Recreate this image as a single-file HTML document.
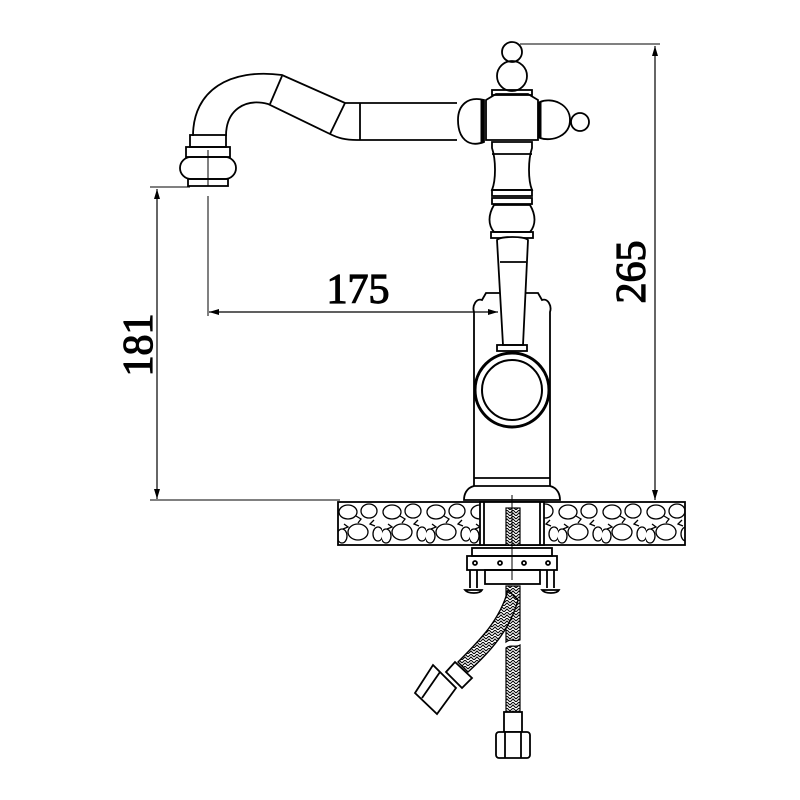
<!DOCTYPE html>
<html><head><style>html,body{margin:0;padding:0;background:#fff}svg{display:block}</style></head>
<body>
<svg width="800" height="800" viewBox="0 0 800 800" xmlns="http://www.w3.org/2000/svg">
<defs>
<marker id="ar" viewBox="0 0 10 10" refX="10" refY="5" markerWidth="12" markerHeight="10" markerUnits="userSpaceOnUse" orient="auto-start-reverse"><path d="M0,2 L10,5 L0,8 Z" fill="#000"/></marker>
<pattern id="stone" width="44" height="44" patternUnits="userSpaceOnUse" x="338" y="502">
<rect width="44" height="44" fill="#fff"/>
<g fill="none" stroke="#000" stroke-width="1.3">
<ellipse cx="10" cy="10" rx="9" ry="7"/><ellipse cx="31" cy="9" rx="8" ry="7"/>
<ellipse cx="20" cy="30" rx="10" ry="8"/><ellipse cx="4" cy="34" rx="5" ry="7"/><ellipse cx="40" cy="32" rx="5" ry="7"/>
<path d="M18,14 l5,3 l-3,4 M36,18 l-4,4 l5,2 M6,22 l4,3 l-5,2"/>
</g></pattern>
<pattern id="braid" width="6" height="6" patternUnits="userSpaceOnUse">
<rect width="6" height="6" fill="#fff"/><path d="M0,3 l3,-3 l3,3 M0,6 l3,-3 l3,3" stroke="#000" stroke-width="1" fill="none"/></pattern>
</defs>
<g fill="none" stroke="#000" stroke-width="1.8">
<line x1="520" y1="44" x2="660" y2="44" stroke-width="1"/>
<line x1="655" y1="46" x2="655" y2="500" stroke-width="1.2" marker-start="url(#ar)" marker-end="url(#ar)"/>
<line x1="150" y1="187" x2="190" y2="187" stroke-width="1"/>
<line x1="150" y1="500" x2="340" y2="500" stroke-width="1"/>
<line x1="157" y1="189" x2="157" y2="499" stroke-width="1.2" marker-start="url(#ar)" marker-end="url(#ar)"/>
<line x1="208" y1="196" x2="208" y2="316" stroke-width="1"/>
<line x1="209" y1="312" x2="498" y2="312" stroke-width="1.2" marker-start="url(#ar)" marker-end="url(#ar)"/>
<!-- spout -->
<path d="M193,136 C193,90 230,68 282,75 L345,103 L457,103"/>
<path d="M226,136 C226,110 245,98 268,104 L330,134 C338,138 345,140 357,140 L457,140"/>
<line x1="282" y1="76" x2="270" y2="104"/>
<line x1="345" y1="103" x2="330" y2="134"/>
<line x1="360" y1="103" x2="360" y2="140"/>
<rect x="190" y="135" width="36" height="12"/>
<rect x="186" y="147" width="44" height="10"/>
<rect x="180" y="157" width="56" height="22" rx="11"/>
<rect x="188" y="179" width="40" height="7"/>
<line x1="208" y1="150" x2="208" y2="186" stroke-width="1"/>
<!-- handle head -->
<circle cx="512" cy="52" r="10"/>
<circle cx="512" cy="76" r="15"/>
<rect x="492" y="90" width="40" height="5"/>
<path d="M486,100 L496,94 L528,94 L538,100 L538,140 L486,140 Z"/>
<path d="M484,100 C468,96 458,105 458,120 C458,138 468,148 484,142 Z"/>
<line x1="482" y1="100" x2="482" y2="142" stroke-width="3"/>
<path d="M540,102 C552,97 570,104 570,120 C570,136 552,142 540,138 Z"/>
<line x1="540" y1="102" x2="540" y2="138" stroke-width="3"/>
<circle cx="580" cy="122" r="9"/>
<!-- stem -->
<path d="M492,142 L532,142 L532,148 C528,160 528,180 532,190 L492,190 C496,180 496,160 492,148 Z"/>
<line x1="492" y1="154" x2="532" y2="154"/>
<rect x="492" y="190" width="40" height="6"/>
<rect x="492" y="198" width="40" height="6"/>
<path d="M494,205 C488,215 488,225 494,232 L530,232 C536,225 536,215 530,205 Z"/>
<rect x="491" y="232" width="42" height="6"/>
<!-- body -->
<path d="M482,300 C476,298 472,306 474,312 L474,486 L550,486 L550,312 C552,306 548,298 542,300 L538,293 L486,293 Z"/>
<path d="M474,486 C466,488 464,495 464,500 L560,500 C560,495 558,488 550,486"/>
<line x1="474" y1="478" x2="550" y2="478"/>
<path d="M497,240 C500,236 525,236 528,240 L523,345 L503,345 Z" fill="#fff"/>
<line x1="500" y1="262" x2="526" y2="262"/>
<rect x="497" y="345" width="30" height="6"/>
<circle cx="512" cy="390" r="37" fill="#fff" stroke-width="3"/>
<circle cx="512" cy="390" r="30" stroke-width="2"/>
<!-- countertop -->
<rect x="338" y="502" width="347" height="43" fill="url(#stone)"/>
<rect x="480" y="502" width="64" height="43" fill="#fff"/>
<line x1="484" y1="502" x2="484" y2="545"/><line x1="540" y1="502" x2="540" y2="545"/>
<rect x="506" y="508" width="14" height="37" fill="url(#braid)" stroke-width="1.2"/>
<!-- mounting -->
<rect x="472" y="548" width="80" height="8"/>
<rect x="467" y="556" width="90" height="14"/>
<rect x="485" y="570" width="55" height="14"/>
<circle cx="475" cy="563" r="2"/><circle cx="500" cy="563" r="2"/><circle cx="524" cy="563" r="2"/><circle cx="548" cy="563" r="2"/>
<path d="M470,570 L470,588 M477,570 L477,588 M465,590 C468,594 480,594 482,590 Z"/>
<path d="M547,570 L547,588 M554,570 L554,588 M542,590 C545,594 557,594 559,590 Z"/>
<line x1="512" y1="495" x2="512" y2="580" stroke-width="1"/>
<!-- hoses -->
<path d="M506,586 L520,586 L520,640 C515,642 511,638 506,642 Z" fill="url(#braid)" stroke-width="1.2"/>
<path d="M508,590 C500,620 480,640 458,662 L468,672 C490,652 510,630 518,600 Z" fill="url(#braid)" stroke-width="1.4"/>
<path d="M506,648 C511,644 515,648 520,645 L520,712 L506,712 Z" fill="url(#braid)" stroke-width="1.2"/>
<rect x="504" y="712" width="18" height="20" fill="#fff"/>
<rect x="496" y="732" width="34" height="26" rx="3" fill="#fff"/>
<line x1="505" y1="732" x2="505" y2="758"/><line x1="521" y1="732" x2="521" y2="758"/>
<path d="M455,662 L472,678 L462,688 L446,672 Z" fill="#fff"/>
<path d="M433,665 L456,688 L437,714 L415,693 Z" fill="#fff"/>
<line x1="440" y1="672" x2="422" y2="698"/>
</g>
<g font-family="'Liberation Serif', serif" font-size="42" fill="#000" stroke="#000" stroke-width="1.2">
<text x="358" y="303" text-anchor="middle">175</text>
<text transform="translate(152,345) rotate(-90)" text-anchor="middle">181</text>
<text transform="translate(645,272) rotate(-90)" text-anchor="middle">265</text>
</g>
</svg>
</body></html>
